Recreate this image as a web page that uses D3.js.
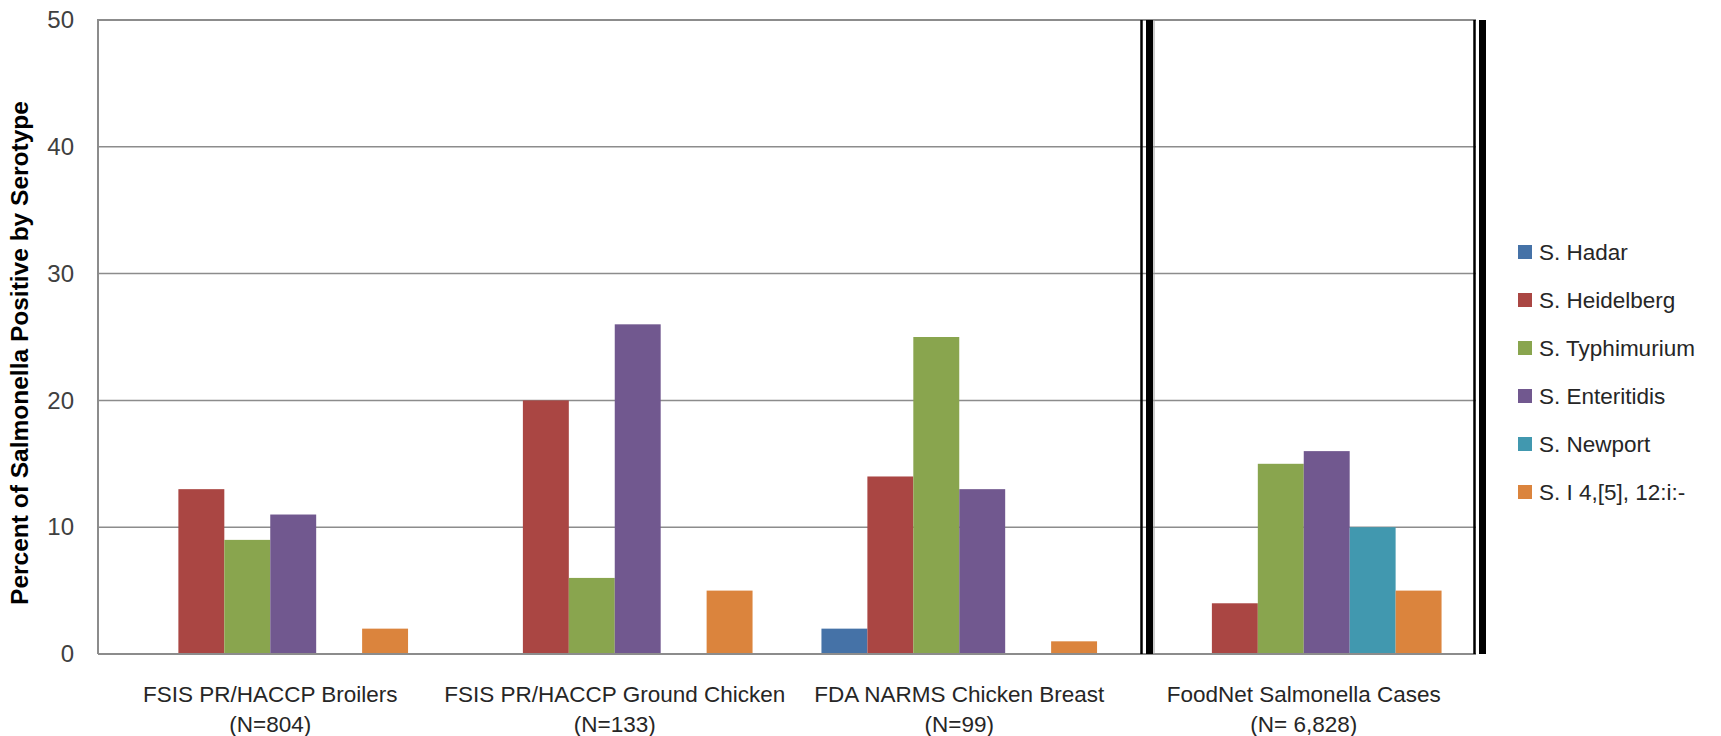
<!DOCTYPE html>
<html>
<head>
<meta charset="utf-8">
<script src="https://cdn.jsdelivr.net/npm/d3@7"></script>
<style>
  html, body { margin: 0; padding: 0; background: #ffffff; }
  svg { display: block; }
  text { font-family: "Liberation Sans", Arial, sans-serif; }
</style>
</head>
<body>
<svg id="chart" width="1721" height="736"></svg>
<script>
// Sources (two-line labels) and the serotypes shown for each
const categories = [
  ["FSIS PR/HACCP Broilers", "(N=804)"],
  ["FSIS PR/HACCP Ground Chicken", "(N=133)"],
  ["FDA NARMS Chicken Breast", "(N=99)"],
  ["FoodNet Salmonella Cases", "(N= 6,828)"]
];
const serotypes = ["S. Hadar", "S. Heidelberg", "S. Typhimurium", "S. Enteritidis", "S. Newport", "S. I 4,[5], 12:i:-"];
const colors = ["#4572A7", "#AA4643", "#89A54E", "#71588F", "#4198AF", "#DB843D"];

// Percent of Salmonella positives by serotype, one array per serotype (in category order)
const hadar        = [0, 0, 2, 0];
const heidelberg   = [13, 20, 14, 4];
const typhimurium  = [9, 6, 25, 15];
const enteritidis  = [11, 26, 13, 16];
const newport      = [0, 0, 0, 10];
const i4_5_12      = [2, 5, 1, 5];
const seriesValues = [hadar, heidelberg, typhimurium, enteritidis, newport, i4_5_12];

const yTicks = [0, 10, 20, 30, 40, 50];

const svg = d3.select("#chart");
const plot = { left: 98, right: 1476, top: 20, bottom: 654 };

const x0 = d3.scaleBand()
  .domain(d3.range(categories.length))
  .range([plot.left, plot.right])
  .paddingInner(0).paddingOuter(0);

const x1 = d3.scaleBand()
  .domain(d3.range(serotypes.length))
  .range([0, x0.bandwidth()])
  .paddingInner(0).paddingOuter(0.75);

const y = d3.scaleLinear().domain([0, 50]).range([plot.bottom, plot.top]);

// Horizontal gridlines
svg.append("g")
  .selectAll("line")
  .data(yTicks.filter(t => t > 0))
  .join("line")
  .attr("x1", plot.left).attr("x2", plot.right)
  .attr("y1", d => y(d)).attr("y2", d => y(d))
  .attr("stroke", "#8c8c8c").attr("stroke-width", 1.5);

// Plot frame (left, top)
svg.append("path")
  .attr("d", `M${plot.left},${plot.bottom} V${plot.top} H${plot.right}`)
  .attr("fill", "none").attr("stroke", "#8c8c8c").attr("stroke-width", 2);

// Bars
const groups = svg.append("g").selectAll("g")
  .data(categories)
  .join("g")
  .attr("transform", (d, i) => `translate(${x0(i)},0)`);

groups.selectAll("rect")
  .data((d, ci) => seriesValues.map((vals, si) => ({ si, v: vals[ci] })).filter(b => b.v > 0))
  .join("rect")
  .attr("x", b => x1(b.si))
  .attr("width", x1.bandwidth())
  .attr("y", b => y(b.v))
  .attr("height", b => y(0) - y(b.v))
  .attr("fill", b => colors[b.si]);

// Baseline at zero
svg.append("line")
  .attr("x1", plot.left).attr("x2", plot.right)
  .attr("y1", plot.bottom).attr("y2", plot.bottom)
  .attr("stroke", "#8c8c8c").attr("stroke-width", 2);

// Y axis tick labels
const yAxis = d3.axisLeft(y).tickValues(yTicks).tickSize(0).tickPadding(24);
const yg = svg.append("g").attr("transform", `translate(${plot.left},0)`).call(yAxis);
yg.select(".domain").remove();
yg.selectAll("text")
  .attr("font-size", 24)
  .attr("fill", "#404040")
  .attr("font-family", "'Liberation Sans', Arial, sans-serif");

// Category labels (two lines each)
const xl = svg.append("g");
categories.forEach((lines, i) => {
  const cx = x0(i) + x0.bandwidth() / 2;
  const t = xl.append("text")
    .attr("text-anchor", "middle")
    .attr("font-size", 22.5)
    .attr("fill", "#262626");
  lines.forEach((ln, k) => {
    t.append("tspan").attr("x", cx).attr("y", 702 + k * 30).text(ln);
  });
});

// Y axis title
svg.append("text")
  .attr("transform", `translate(28,${(plot.top + plot.bottom) / 2 + 16}) rotate(-90)`)
  .attr("text-anchor", "middle")
  .attr("font-size", 24.5)
  .attr("font-weight", "bold")
  .attr("fill", "#000")
  .text("Percent of Salmonella Positive by Serotype");

// Double rules separating the case data from the food samples, and closing the plot
function doubleRule(xThin, xThick) {
  svg.append("line")
    .attr("x1", xThin).attr("x2", xThin)
    .attr("y1", plot.top).attr("y2", plot.bottom)
    .attr("stroke", "#000").attr("stroke-width", 2.5);
  svg.append("line")
    .attr("x1", xThick).attr("x2", xThick)
    .attr("y1", plot.top).attr("y2", plot.bottom)
    .attr("stroke", "#000").attr("stroke-width", 7);
}
doubleRule(1141.5, 1149.5);
svg.append("line")
  .attr("x1", 1154).attr("x2", 1154)
  .attr("y1", plot.top).attr("y2", plot.bottom)
  .attr("stroke", "#9a9a9a").attr("stroke-width", 1);
doubleRule(1474.5, 1482.5);

// Legend
const legend = svg.append("g").attr("transform", "translate(1518,252)");
const items = legend.selectAll("g")
  .data(serotypes)
  .join("g")
  .attr("transform", (d, i) => `translate(0,${i * 48})`);
items.append("rect")
  .attr("x", 0).attr("y", -7)
  .attr("width", 14).attr("height", 14)
  .attr("fill", (d, i) => colors[i]);
items.append("text")
  .attr("x", 21).attr("y", 0)
  .attr("dy", "0.35em")
  .attr("font-size", 22.5)
  .attr("fill", "#262626")
  .text(d => d);
</script>
</body>
</html>
